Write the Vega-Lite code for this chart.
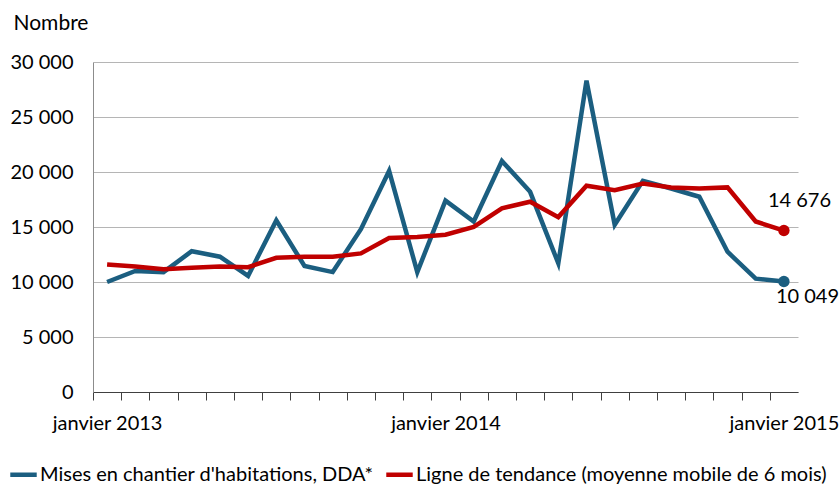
{
  "$schema": "https://vega.github.io/schema/vega-lite/v6.json",
  "width": 705,
  "height": 330,
  "autosize": "none",
  "padding": {"left": 93, "top": 62, "right": 41, "bottom": 94},
  "config": {
    "view": {"stroke": null},
    "font": "Lato"
  },
  "data": {
    "values": [
      {"mois": "2013-01", "serie": "Mises en chantier d'habitations, DDA*", "valeur": 10000},
      {"mois": "2013-02", "serie": "Mises en chantier d'habitations, DDA*", "valeur": 11000},
      {"mois": "2013-03", "serie": "Mises en chantier d'habitations, DDA*", "valeur": 10900},
      {"mois": "2013-04", "serie": "Mises en chantier d'habitations, DDA*", "valeur": 12800},
      {"mois": "2013-05", "serie": "Mises en chantier d'habitations, DDA*", "valeur": 12300},
      {"mois": "2013-06", "serie": "Mises en chantier d'habitations, DDA*", "valeur": 10550},
      {"mois": "2013-07", "serie": "Mises en chantier d'habitations, DDA*", "valeur": 15600},
      {"mois": "2013-08", "serie": "Mises en chantier d'habitations, DDA*", "valeur": 11450},
      {"mois": "2013-09", "serie": "Mises en chantier d'habitations, DDA*", "valeur": 10900},
      {"mois": "2013-10", "serie": "Mises en chantier d'habitations, DDA*", "valeur": 14800},
      {"mois": "2013-11", "serie": "Mises en chantier d'habitations, DDA*", "valeur": 20100},
      {"mois": "2013-12", "serie": "Mises en chantier d'habitations, DDA*", "valeur": 10900},
      {"mois": "2014-01", "serie": "Mises en chantier d'habitations, DDA*", "valeur": 17400},
      {"mois": "2014-02", "serie": "Mises en chantier d'habitations, DDA*", "valeur": 15500},
      {"mois": "2014-03", "serie": "Mises en chantier d'habitations, DDA*", "valeur": 21000},
      {"mois": "2014-04", "serie": "Mises en chantier d'habitations, DDA*", "valeur": 18200},
      {"mois": "2014-05", "serie": "Mises en chantier d'habitations, DDA*", "valeur": 11700},
      {"mois": "2014-06", "serie": "Mises en chantier d'habitations, DDA*", "valeur": 28300},
      {"mois": "2014-07", "serie": "Mises en chantier d'habitations, DDA*", "valeur": 15200},
      {"mois": "2014-08", "serie": "Mises en chantier d'habitations, DDA*", "valeur": 19200},
      {"mois": "2014-09", "serie": "Mises en chantier d'habitations, DDA*", "valeur": 18500},
      {"mois": "2014-10", "serie": "Mises en chantier d'habitations, DDA*", "valeur": 17750},
      {"mois": "2014-11", "serie": "Mises en chantier d'habitations, DDA*", "valeur": 12750},
      {"mois": "2014-12", "serie": "Mises en chantier d'habitations, DDA*", "valeur": 10300},
      {"mois": "2015-01", "serie": "Mises en chantier d'habitations, DDA*", "valeur": 10049, "libelle": "10 049"},
      {"mois": "2013-01", "serie": "Ligne de tendance (moyenne mobile de 6 mois)", "valeur": 11600},
      {"mois": "2013-02", "serie": "Ligne de tendance (moyenne mobile de 6 mois)", "valeur": 11400},
      {"mois": "2013-03", "serie": "Ligne de tendance (moyenne mobile de 6 mois)", "valeur": 11150},
      {"mois": "2013-04", "serie": "Ligne de tendance (moyenne mobile de 6 mois)", "valeur": 11300},
      {"mois": "2013-05", "serie": "Ligne de tendance (moyenne mobile de 6 mois)", "valeur": 11400},
      {"mois": "2013-06", "serie": "Ligne de tendance (moyenne mobile de 6 mois)", "valeur": 11350},
      {"mois": "2013-07", "serie": "Ligne de tendance (moyenne mobile de 6 mois)", "valeur": 12200},
      {"mois": "2013-08", "serie": "Ligne de tendance (moyenne mobile de 6 mois)", "valeur": 12300},
      {"mois": "2013-09", "serie": "Ligne de tendance (moyenne mobile de 6 mois)", "valeur": 12300},
      {"mois": "2013-10", "serie": "Ligne de tendance (moyenne mobile de 6 mois)", "valeur": 12600},
      {"mois": "2013-11", "serie": "Ligne de tendance (moyenne mobile de 6 mois)", "valeur": 14000},
      {"mois": "2013-12", "serie": "Ligne de tendance (moyenne mobile de 6 mois)", "valeur": 14100},
      {"mois": "2014-01", "serie": "Ligne de tendance (moyenne mobile de 6 mois)", "valeur": 14300},
      {"mois": "2014-02", "serie": "Ligne de tendance (moyenne mobile de 6 mois)", "valeur": 15000},
      {"mois": "2014-03", "serie": "Ligne de tendance (moyenne mobile de 6 mois)", "valeur": 16700},
      {"mois": "2014-04", "serie": "Ligne de tendance (moyenne mobile de 6 mois)", "valeur": 17300},
      {"mois": "2014-05", "serie": "Ligne de tendance (moyenne mobile de 6 mois)", "valeur": 15900},
      {"mois": "2014-06", "serie": "Ligne de tendance (moyenne mobile de 6 mois)", "valeur": 18750},
      {"mois": "2014-07", "serie": "Ligne de tendance (moyenne mobile de 6 mois)", "valeur": 18350},
      {"mois": "2014-08", "serie": "Ligne de tendance (moyenne mobile de 6 mois)", "valeur": 18950},
      {"mois": "2014-09", "serie": "Ligne de tendance (moyenne mobile de 6 mois)", "valeur": 18600},
      {"mois": "2014-10", "serie": "Ligne de tendance (moyenne mobile de 6 mois)", "valeur": 18500},
      {"mois": "2014-11", "serie": "Ligne de tendance (moyenne mobile de 6 mois)", "valeur": 18600},
      {"mois": "2014-12", "serie": "Ligne de tendance (moyenne mobile de 6 mois)", "valeur": 15500},
      {"mois": "2015-01", "serie": "Ligne de tendance (moyenne mobile de 6 mois)", "valeur": 14676, "libelle": "14 676"}
    ]
  },
  "layer": [
    {
      "mark": {"type": "line", "strokeWidth": 4.5},
      "encoding": {
        "x": {
          "field": "mois",
          "type": "nominal",
          "scale": {"type": "band", "paddingInner": 0, "paddingOuter": 0},
          "axis": {
            "title": null,
            "tickSize": 8,
            "tickOffset": -14.1,
            "labelOffset": 14.1,
            "tickColor": "#404040",
            "domainColor": "#404040",
            "labelAngle": 0,
            "labelFontSize": 20,
            "labelColor": "black",
            "labelPadding": 13,
            "labelOverlap": false,
            "labelExpr": "isString(datum.value) && slice(datum.value, 5) == '01' ? 'janvier ' + slice(datum.value, 0, 4) : ''"
          }
        },
        "y": {
          "field": "valeur",
          "type": "quantitative",
          "scale": {"domain": [0, 30000]},
          "axis": {
            "values": [0, 5000, 10000, 15000, 20000, 25000, 30000],
            "labelExpr": "replace(format(datum.value, ','), ',', ' ')",
            "tickSize": 0,
            "labelPadding": 20,
            "labelFontSize": 20,
            "labelColor": "black",
            "domainColor": "#8c8c8c",
            "gridColor": "#b5b5b5",
            "title": "Nombre",
            "titleAngle": 0,
            "titleAlign": "left",
            "titleBaseline": "alphabetic",
            "titleX": -80,
            "titleY": -33,
            "titleFontSize": 21,
            "titleFontWeight": "normal",
            "titleColor": "black"
          }
        },
        "color": {
          "field": "serie",
          "type": "nominal",
          "scale": {
            "domain": ["Mises en chantier d'habitations, DDA*", "Ligne de tendance (moyenne mobile de 6 mois)"],
            "range": ["#1b5e80", "#c00000"]
          },
          "legend": {
            "orient": "none",
            "legendX": -85,
            "legendY": 397,
            "direction": "horizontal",
            "title": null,
            "symbolStrokeWidth": 4.5,
            "symbolSize": 700,
            "labelFontSize": 20,
            "labelColor": "black",
            "labelOffset": 1,
            "columnPadding": 3,
            "labelLimit": 800
          }
        }
      }
    },
    {
      "transform": [{"filter": "datum.mois == '2015-01'"}],
      "mark": {"type": "circle", "size": 130, "opacity": 1},
      "encoding": {
        "x": {"field": "mois", "type": "nominal"},
        "y": {"field": "valeur", "type": "quantitative"},
        "color": {"field": "serie", "type": "nominal", "legend": null}
      }
    },
    {
      "transform": [{"filter": "datum.mois == '2015-01' && datum.valeur > 12000"}],
      "mark": {"type": "text", "align": "left", "baseline": "alphabetic", "dx": -16, "dy": -24, "fontSize": 20, "color": "black"},
      "encoding": {
        "x": {"field": "mois", "type": "nominal"},
        "y": {"field": "valeur", "type": "quantitative"},
        "text": {"field": "libelle", "type": "nominal"}
      }
    },
    {
      "transform": [{"filter": "datum.mois == '2015-01' && datum.valeur < 12000"}],
      "mark": {"type": "text", "align": "left", "baseline": "alphabetic", "dx": -8, "dy": 22, "fontSize": 20, "color": "black"},
      "encoding": {
        "x": {"field": "mois", "type": "nominal"},
        "y": {"field": "valeur", "type": "quantitative"},
        "text": {"field": "libelle", "type": "nominal"}
      }
    }
  ]
}
